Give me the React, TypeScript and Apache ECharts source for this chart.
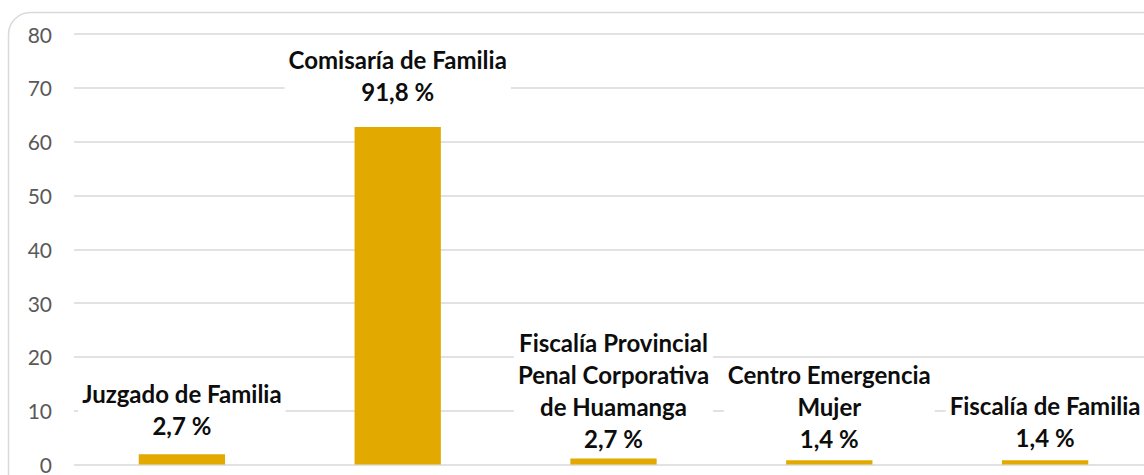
import React, { useEffect, useRef } from "react";
import * as echarts from "echarts";

const categories = [
  "Juzgado de Familia",
  "Comisaría de Familia",
  "Fiscalía Provincial\nPenal Corporativa\nde Huamanga",
  "Centro Emergencia\nMujer",
  "Fiscalía de Familia",
];
const values = [1.9, 62.7, 1.1, 0.8, 0.8];
const percentLabels = ["2,7 %", "91,8 %", "2,7 %", "1,4 %", "1,4 %"];
const labelDistances = [13, 20, 4, 6, 7];

export default function App() {
  const ref = useRef<HTMLDivElement>(null);
  useEffect(() => {
    if (!ref.current) return;
    const chart = echarts.init(ref.current, null, { renderer: "svg" });
    chart.setOption({
      animation: false,
      backgroundColor: "#ffffff",
      graphic: [
        {
          type: "rect",
          z: -10,
          shape: { x: 8.5, y: 12.5, width: 1170, height: 500, r: 22 },
          style: { fill: "none", stroke: "#d9d9d9", lineWidth: 1.5 },
        },
      ],
      grid: { left: 74, top: 34, width: 1079, height: 431, containLabel: false },
      xAxis: {
        type: "category",
        data: categories,
        axisLine: { show: false },
        axisTick: { show: false },
        axisLabel: { show: false },
      },
      yAxis: {
        type: "value",
        min: 0,
        max: 80,
        interval: 10,
        axisLine: { show: false },
        axisTick: { show: false },
        splitLine: { lineStyle: { color: "#d9d9d9", width: 1.5 } },
        axisLabel: {
          color: "#595959",
          fontSize: 21,
          fontFamily: "Lato",
          margin: 22,
        },
      },
      series: [
        {
          type: "bar",
          barWidth: "40%",
          itemStyle: { color: "#E2AA00" },
          data: values.map((v, i) => ({
            value: v,
            label: { distance: labelDistances[i] },
          })),
          label: {
            show: true,
            position: "top",
            formatter: (p: any) =>
              categories[p.dataIndex] + "\n" + percentLabels[p.dataIndex],
            color: "#0d0d0d",
            fontWeight: "bold",
            fontSize: 24,
            fontFamily: "Lato",
            lineHeight: 32,
            align: "center",
            backgroundColor: "#ffffff",
            padding: [0, 4],
          },
        },
      ],
    });
    return () => chart.dispose();
  }, []);
  return (
    <div style={{ position: "fixed", left: 0, top: 0, width: 1144, height: 475, overflow: "hidden" }}>
      <div ref={ref} style={{ width: 1180, height: 475 }} />
    </div>
  );
}
